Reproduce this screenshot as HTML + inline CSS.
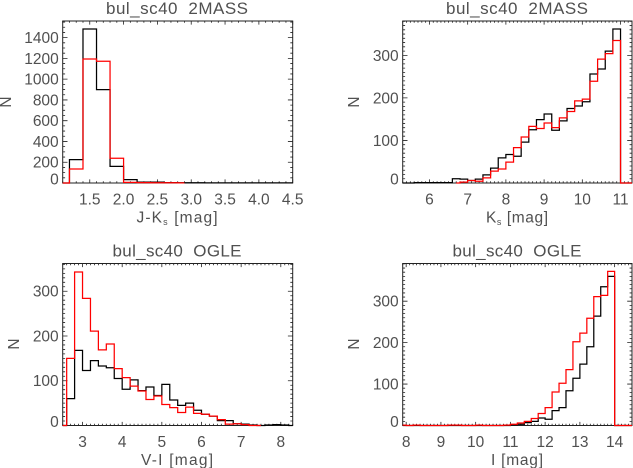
<!DOCTYPE html>
<html lang="en">
<head>
<meta charset="utf-8">
<title>bul_sc40 histograms</title>
<style>
html,body{margin:0;padding:0;background:#fff;}
svg{display:block;}
text{font-family:"Liberation Sans",sans-serif;font-size:15.5px;fill:#505050;}
</style>
</head>
<body>
<svg id="chart" xmlns="http://www.w3.org/2000/svg" width="633" height="468" viewBox="0 0 633 468"></svg>
<script>
const BIN_WIDTH = 0.2;

// Panel 1: J-Ks, 2MASS
const jkBlackStart = 1.0;
const jkBlackCounts = [0,225,1483,899,160,32,8,8,4,2,2,1,1,1,1,1,1,1];
const jkRedStart = 1.0;
const jkRedCounts = [0,135,1194,1172,238,6,4,3,2,1];
const jkXTicks = [1.5,2.0,2.5,3.0,3.5,4.0,4.5];
const jkXTickLabels = ["1.5","2.0","2.5","3.0","3.5","4.0","4.5"];
const jkYTicks = [0,200,400,600,800,1000,1200,1400];

// Panel 2: Ks, 2MASS
const ksBlackStart = 5.2;
const ksBlackCounts = [0,0,1,1,1,1,1,10,9,6,9,19,35,59,67,63,96,125,149,162,124,146,175,181,191,256,268,310,362,0,0];
const ksRedStart = 6.6;
const ksRedCounts = [0,2,6,4,12,28,33,49,83,108,133,128,141,130,153,168,193,197,239,291,304,335,0,0];
const ksXTicks = [6,7,8,9,10,11];
const ksXTickLabels = ["6","7","8","9","10","11"];
const ksYTicks = [0,100,200,300];

// Panel 3: V-I, OGLE
const viBlackStart = 2.4;
const viBlackCounts = [0,60,168,123,145,133,129,105,81,102,78,86,67,92,57,45,50,34,25,21,11,11,4,3,1,0,1,2,1,0];
const viRedStart = 2.4;
const viRedCounts = [0,150,343,284,211,169,182,127,107,88,77,58,66,47,40,29,41,27,25,21,13,3,4,2,0,0];
const viXTicks = [3,4,5,6,7,8];
const viXTickLabels = ["3","4","5","6","7","8"];
const viYTicks = [0,100,200,300];

// Panel 4: I, OGLE
const iBlackStart = 7.8;
const iBlackCounts = [0,0,0,0,0,0,0,0,0,0,0,0,0,0,0,0,2,3,7,10,18,15,36,43,84,114,148,190,264,335,360,0,0,0];
const iRedStart = 7.8;
const iRedCounts = [1,0,1,0,0,0,0,1,1,0,0,1,0,0,0,1,3,6,10,17,29,43,81,102,135,202,223,259,311,314,372,0,0,0];
const iXTicks = [8,9,10,11,12,13,14];
const iXTickLabels = ["8","9","10","11","12","13","14"];
const iYTicks = [0,100,200,300];

const NS = "http://www.w3.org/2000/svg";
const svg = document.getElementById("chart");

function make(parent, tag, attrs) {
  const el = document.createElementNS(NS, tag);
  for (const k in attrs) el.setAttribute(k, attrs[k]);
  parent.appendChild(el);
  return el;
}

function ticksBetween(min, max, step) {
  const out = [];
  const first = Math.ceil(min / step - 1e-6);
  for (let i = first; i * step <= max + 1e-6; i++) out.push(i * step);
  return out;
}

function stepPath(start, counts, sx, sy) {
  let d = "";
  counts.forEach(function (c, i) {
    const left = start + i * BIN_WIDTH;
    const a = i === 0 ? left + BIN_WIDTH / 2 : left;
    const b = i === counts.length - 1 ? left + BIN_WIDTH / 2 : left + BIN_WIDTH;
    d += (i === 0 ? "M" : "L") + sx(a).toFixed(2) + " " + sy(c).toFixed(2);
    d += "L" + sx(b).toFixed(2) + " " + sy(c).toFixed(2);
  });
  return d;
}

function drawPanel(p) {
  const g = make(svg, "g", {});
  
  
  const sx = v => p.left + (v - p.xMin) / (p.xMax - p.xMin) * (p.right - p.left);
  const sy = v => p.bottom - (v - p.yMin) / (p.yMax - p.yMin) * (p.bottom - p.top);

  // clip
  const clip = make(g, "clipPath", {id: p.id + "-clip"});
  make(clip, "rect", {x: p.left - 1, y: p.top - 1, width: p.right - p.left + 2, height: p.bottom - p.top + 2});

  // frame
  const frame = make(g, "rect", {x: p.left, y: p.top, width: p.right - p.left, height: p.bottom - p.top, fill: "none", stroke: "#222", "stroke-width": 1});
  
  

  // ticks
  let d = "";
  ticksBetween(p.xMin, p.xMax, p.xMinor).forEach(function (v) {
    const x = sx(v).toFixed(2);
    d += "M" + x + " " + p.bottom + "v-1.8M" + x + " " + p.top + "v1.8";
  });
  p.xTicks.forEach(function (v) {
    const x = sx(v).toFixed(2);
    d += "M" + x + " " + p.bottom + "v-3.6M" + x + " " + p.top + "v3.6";
  });
  ticksBetween(p.yMin, p.yMax, p.yMinor).forEach(function (v) {
    const y = sy(v).toFixed(2);
    d += "M" + p.left + " " + y + "h2.4M" + p.right + " " + y + "h-2.4";
  });
  p.yTicks.forEach(function (v) {
    const y = sy(v).toFixed(2);
    d += "M" + p.left + " " + y + "h4.8M" + p.right + " " + y + "h-4.8";
  });
  const ticks = make(g, "path", {d: d, fill: "none", stroke: "#222", "stroke-width": 0.8});
  
  

  // series (drawn over the frame so zero bins tint the baseline)
  const black = make(g, "path", {d: stepPath(p.blackStart, p.blackCounts, sx, sy), fill: "none", stroke: "#000", "stroke-width": 1.25, "clip-path": "url(#" + p.id + "-clip)"});
  
  
  const red = make(g, "path", {d: stepPath(p.redStart, p.redCounts, sx, sy), fill: "none", stroke: "#f00", "stroke-width": 1.25, "clip-path": "url(#" + p.id + "-clip)"});
  
  

  // tick labels
  p.xTicks.forEach(function (v, i) {
    const t = make(g, "text", {x: sx(v), y: p.bottom + 21.5, "text-anchor": "middle"});
    
    
    t.textContent = p.xTickLabels[i];
  });
  p.yTicks.forEach(function (v) {
    const lift = v === 0 ? 4 : 0;
    const t = make(g, "text", {x: p.left - 4, y: sy(v) + 5.5 - lift, "text-anchor": "end"});
    
    
    t.textContent = String(v);
  });

  // title
  const title = make(g, "text", {x: p.centerX, y: p.top - 7, "text-anchor": "middle", textLength: p.titleWidth, lengthAdjust: "spacing"});
  
  
  title.style.whiteSpace = "pre";
  title.style.fontSize = "17px";
  title.textContent = p.title;

  // x axis title
  const xt = make(g, "text", {x: p.centerX, y: p.bottom + 39.5, "text-anchor": "middle", textLength: p.xTitleWidth, lengthAdjust: "spacing"});
  
  
  if (p.xTitleSub) {
    xt.appendChild(document.createTextNode(p.xTitleHead));
    const sub = make(xt, "tspan", {dy: 2.5});
    sub.style.fontSize = "9px";
    sub.textContent = p.xTitleSub;
    const rest = make(xt, "tspan", {dy: -2.5});
    rest.textContent = p.xTitleTail;
  } else {
    xt.textContent = p.xTitleHead + p.xTitleTail;
  }

  // y axis title
  const yt = make(g, "text", {x: p.nX, y: p.nY, "text-anchor": "middle", transform: "rotate(-90 " + p.nX + " " + p.nY + ")"});
  
  
  yt.textContent = "N";
}

drawPanel({id: "j-ks", left: 62.7, right: 292.7, top: 21, bottom: 183,
  xMin: 1.1, xMax: 4.5, yMin: 0, yMax: 1560, xMinor: 0.1, yMinor: 50,
  xTicks: jkXTicks, xTickLabels: jkXTickLabels, yTicks: jkYTicks,
  blackStart: jkBlackStart, blackCounts: jkBlackCounts, redStart: jkRedStart, redCounts: jkRedCounts,
  title: "bul_sc40  2MASS", titleWidth: 142, centerX: 177,
  xTitleHead: "J-K", xTitleSub: "s", xTitleTail: " [mag]", xTitleWidth: 81, nX: 11, nY: 102});

drawPanel({id: "ks", left: 402.7, right: 632, top: 21, bottom: 183,
  xMin: 5.3, xMax: 11.3, yMin: 0, yMax: 380.7, xMinor: 0.1, yMinor: 10,
  xTicks: ksXTicks, xTickLabels: ksXTickLabels, yTicks: ksYTicks,
  blackStart: ksBlackStart, blackCounts: ksBlackCounts, redStart: ksRedStart, redCounts: ksRedCounts,
  title: "bul_sc40  2MASS", titleWidth: 142, centerX: 517,
  xTitleHead: "K", xTitleSub: "s", xTitleTail: " [mag]", xTitleWidth: 62, nX: 359, nY: 102});

drawPanel({id: "v-i", left: 62.7, right: 292.7, top: 263.5, bottom: 425.5,
  xMin: 2.5, xMax: 8.3, yMin: 0, yMax: 362, xMinor: 0.1, yMinor: 10,
  xTicks: viXTicks, xTickLabels: viXTickLabels, yTicks: viYTicks,
  blackStart: viBlackStart, blackCounts: viBlackCounts, redStart: viRedStart, redCounts: viRedCounts,
  title: "bul_sc40  OGLE", titleWidth: 129, centerX: 177,
  xTitleHead: "V-I", xTitleSub: "", xTitleTail: " [mag]", xTitleWidth: 72, nX: 19, nY: 344});

drawPanel({id: "i", left: 402.7, right: 632, top: 263.5, bottom: 425.5,
  xMin: 7.9, xMax: 14.5, yMin: 0, yMax: 391, xMinor: 0.1, yMinor: 10,
  xTicks: iXTicks, xTickLabels: iXTickLabels, yTicks: iYTicks,
  blackStart: iBlackStart, blackCounts: iBlackCounts, redStart: iRedStart, redCounts: iRedCounts,
  title: "bul_sc40  OGLE", titleWidth: 129, centerX: 517,
  xTitleHead: "I", xTitleSub: "", xTitleTail: " [mag]", xTitleWidth: 52, nX: 359, nY: 344});
</script>
</body>
</html>
